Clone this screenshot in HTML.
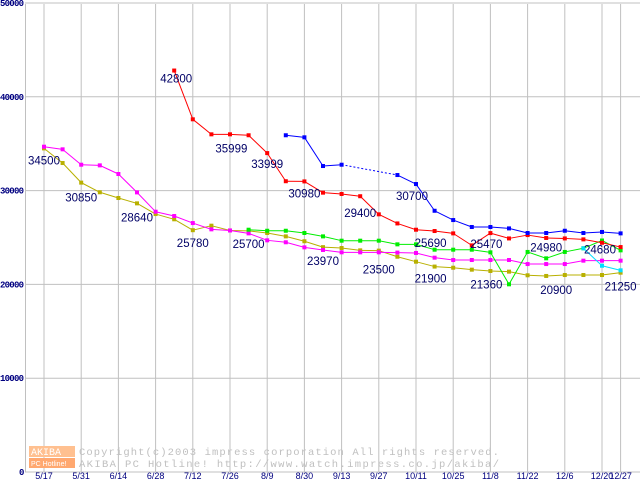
<!DOCTYPE html>
<html><head><meta charset="utf-8"><style>
html,body{margin:0;padding:0;background:#fff;}
svg{display:block;}
</style></head><body>
<svg id="chart" width="640" height="480" xmlns="http://www.w3.org/2000/svg">
<g id="grid"></g>
<g id="wm">
 <rect x="29" y="446" width="46" height="11" fill="#ffc090"/>
 <text x="31" y="455" font-family="Liberation Mono, monospace" font-size="10" fill="#ffffff">AKIBA</text>
 <rect x="29" y="458" width="46" height="10" fill="#ffa870"/>
 <text x="31" y="466" font-family="Liberation Sans, sans-serif" font-size="7" fill="#fff">PC Hotline!</text>
 <text x="79" y="455" font-family="Liberation Mono, monospace" font-size="10.5" fill="#c0c0c0" textLength="420">Copyright(c)2003 impress corporation All rights reserved.</text>
 <text x="79" y="467" font-family="Liberation Mono, monospace" font-size="10.5" fill="#c0c0c0" textLength="420">AKIBA PC Hotline!  http://www.watch.impress.co.jp/akiba/</text>
</g>
<g id="series"></g>
<g id="labels"></g>
</svg>
<script>
const categories = ["5/17","5/24","5/31","6/7","6/14","6/21","6/28","7/5","7/12","7/19","7/26","8/2","8/9","8/16","8/23","8/30","9/6","9/13","9/20","9/27","10/4","10/11","10/18","10/25","11/1","11/8","11/15","11/22","11/29","12/6","12/13","12/20","12/27"];
const tickLabels = ["5/17","5/31","6/14","6/28","7/12","7/26","8/9","8/30","9/13","9/27","10/11","10/25","11/8","11/22","12/6","12/20","12/27"];
const tickIndex = [0,2,4,6,8,10,12,14,16,18,20,22,24,26,28,30,31];
const yTicks = [0,10000,20000,30000,40000,50000];
const redVals = [null,null,null,null,null,null,null,42800,37600,35999,36000,35900,33999,31000,30980,29780,29640,29400,27470,26500,25830,25690,25440,24160,25470,24900,25260,24950,24900,24800,24440,23980];
const blueVals = [null,null,null,null,null,null,null,null,null,null,null,null,null,35900,35680,32620,32760,null,null,31660,30700,27850,26860,26120,26120,25970,25480,25480,25720,25480,25590,25440];
const greenVals = [null,null,null,null,null,null,null,null,null,null,null,25830,25720,25720,25480,25120,24660,24660,24660,24270,24270,23700,23700,23700,23420,20010,23460,22780,23460,23850,24680,23630];
const cyanVals = [null,null,null,null,null,null,null,null,null,null,null,null,null,null,null,null,null,null,null,null,null,null,null,null,null,null,null,null,null,23850,21990,21500];
const magentaVals = [34680,34400,32760,32690,31770,29810,27750,27290,26540,25870,25750,25440,24700,24490,23950,23670,23420,23420,23420,23390,23350,22850,22600,22600,22600,22600,22170,22170,22170,22530,22530,22530];
const oliveVals = [34500,32940,30850,29820,29210,28640,27500,26940,25780,26260,25750,25700,25480,25120,24600,23970,23880,23630,23600,22950,22420,21900,21780,21570,21430,21360,20970,20900,21000,21000,21000,21250];
const labelVals = [34500,30850,28640,42800,35999,25780,25700,33999,30980,23970,29400,23500,30700,25690,21900,25470,21360,24980,20900,24680,21250];
const labelIdx = [0,2,5,7,9,8,11,12,14,15,17,18,20,21,21,24,24,27,27,30,31];
const labelDy = [16,19,18,12,18,17,17,15,16,18,21,22,16,16,16,15,17,14,18,13,18];
const labelDx = [-16,-16,-16,-14,4,-16,-16,-16,-16,-16,-16,-16,-20,-20,-20,-20,-20,-16,-6,-18,-16];
const NS="http://www.w3.org/2000/svg";
const X0=44, DX=18.6, Y0=472, YS=469/50000;
function xs(i){return X0+DX*i;}
function ys(v){return Y0-v*YS;}
function mk(tag,attrs,parent){const e=document.createElementNS(NS,tag);for(const k in attrs)e.setAttribute(k,attrs[k]);parent.appendChild(e);return e;}
const grid=document.getElementById('grid');
yTicks.forEach(v=>{
  const l=mk('line',{x1:25,x2:640,y1:ys(v),y2:ys(v),stroke:'#c0c0c0','stroke-width':1},grid);
  
  
  const a={x:v?0:19,y:ys(v)+3,'font-family':'Liberation Mono, monospace','font-size':9,'font-weight':'bold',fill:'#000080'};
  if(v)a.textLength=24;
  const t=mk('text',a,grid);
  t.textContent=String(v);
  
  
});
tickIndex.forEach((ix,k)=>{
  const x=xs(ix);
  const l=mk('line',{x1:x,x2:x,y1:4,y2:472,stroke:'#c0c0c0','stroke-width':1},grid);
  
  
  const t=mk('text',{x:x,y:479,'text-anchor':'middle','font-family':'Liberation Sans, sans-serif','font-size':9,fill:'#000080'},grid);
  t.textContent=tickLabels[k];
  
  
});
const ax=mk('line',{x1:25.5,x2:25.5,y1:4,y2:472,stroke:'#c0c0c0','stroke-width':1},grid);


const sg=document.getElementById('series');
function drawSeries(vals,color,name){
  const g=mk('g',{},sg);
  
  
  let prev=-1;
  for(let i=0;i<vals.length;i++){
    if(vals[i]==null)continue;
    if(prev>=0){
      const a={x1:xs(prev),y1:ys(vals[prev]),x2:xs(i),y2:ys(vals[i]),stroke:color,'stroke-width':1};
      if(i-prev>1)a['stroke-dasharray']='2,2';
      const l=mk('line',a,g);
      
      
    }
    prev=i;
  }
  vals.forEach((v,i)=>{
    if(v==null)return;
    const r=mk('rect',{x:xs(i)-2,y:ys(v)-2,width:4,height:4,fill:color},g);
    
    
  });
}
drawSeries(oliveVals,'#b8b000','olive-series');
drawSeries(magentaVals,'#ff00ff','magenta-series');
drawSeries(greenVals,'#00ee00','green-series');
drawSeries(cyanVals,'#00e0ff','cyan-series');
drawSeries(redVals,'#ff0000','red-series');
drawSeries(blueVals,'#0000ff','blue-series');
const lg=document.getElementById('labels');
labelVals.forEach((v,k)=>{
  const t=mk('text',{x:xs(labelIdx[k])+labelDx[k],y:ys(v)+labelDy[k],'font-family':'Liberation Sans, sans-serif','font-size':11.5,fill:'#000066'},lg);
  t.textContent=String(v);
  
  
});
</script>
</body></html>
